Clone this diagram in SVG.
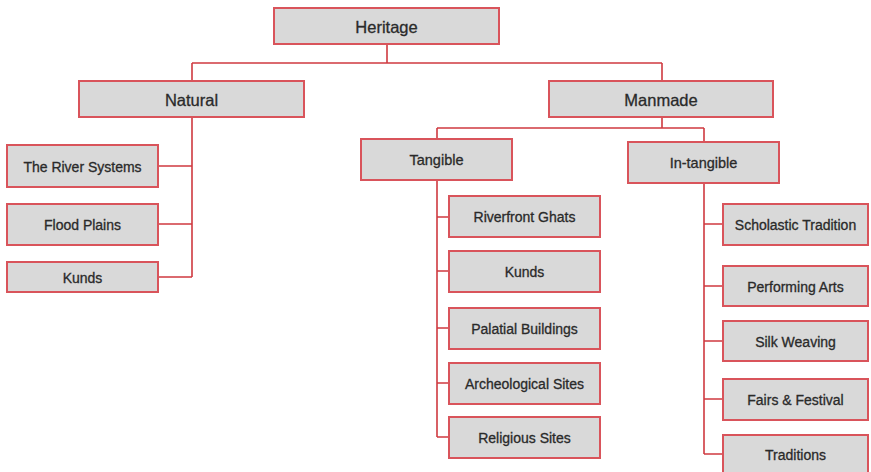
<svg xmlns="http://www.w3.org/2000/svg" width="871" height="472" viewBox="0 0 871 472">
<style>
.box{fill:#d9d9d9;stroke:#d9545b;stroke-width:2}
.ln{fill:none;stroke:#cf3a40;stroke-width:1.6}
text{font-family:"Liberation Sans",Arial,sans-serif;fill:#2a2a2a;stroke:#2a2a2a;stroke-width:0.3;text-anchor:middle;dominant-baseline:central}
.t1{font-size:16.5px}
.t2{font-size:14.5px}
.t3{font-size:14px}
</style>
<rect width="871" height="472" fill="#ffffff"/>
<g id="connectors">
<path class="ln" d="M387 44V63M192 63H662M192 63V81M662 63V81"/>
<path class="ln" d="M192 117V277M158 166H192M158 224H192M158 277H192"/>
<path class="ln" d="M662 117V128M437 128H704M437 128V139M704 128V142"/>
<path class="ln" d="M437 180V437M437 217H449M437 271H449M437 328H449M437 383H449M437 437H449"/>
<path class="ln" d="M704 183V454M704 224H723M704 286H723M704 341H723M704 399H723M704 454H723"/>
</g>
<g id="heritage"><rect class="box" x="274" y="8" width="225" height="36"/><text class="t1" x="386.5" y="26.5">Heritage</text></g>
<g id="natural"><rect class="box" x="79" y="81" width="225" height="36"/><text class="t1" x="191.5" y="99.5">Natural</text></g>
<g id="manmade"><rect class="box" x="549" y="81" width="224" height="36"/><text class="t1" x="661" y="99.5">Manmade</text></g>
<g id="river-systems"><rect class="box" x="7" y="145" width="151" height="42"/><text class="t3" x="82.5" y="166.5">The River Systems</text></g>
<g id="flood-plains"><rect class="box" x="7" y="204" width="151" height="41"/><text class="t3" x="82.5" y="225">Flood Plains</text></g>
<g id="kunds-natural"><rect class="box" x="7" y="262" width="151" height="30"/><text class="t3" x="82.5" y="277.5">Kunds</text></g>
<g id="tangible"><rect class="box" x="361" y="139" width="151" height="41"/><text class="t2" x="436.5" y="160">Tangible</text></g>
<g id="intangible"><rect class="box" x="628" y="142" width="151" height="41"/><text class="t2" x="703.5" y="163">In-tangible</text></g>
<g id="riverfront-ghats"><rect class="box" x="449" y="196" width="151" height="41"/><text class="t3" x="524.5" y="217">Riverfront Ghats</text></g>
<g id="kunds-tangible"><rect class="box" x="449" y="251" width="151" height="41"/><text class="t3" x="524.5" y="272">Kunds</text></g>
<g id="palatial-buildings"><rect class="box" x="449" y="308" width="151" height="41"/><text class="t3" x="524.5" y="329">Palatial Buildings</text></g>
<g id="archeological-sites"><rect class="box" x="449" y="363" width="151" height="41"/><text class="t3" x="524.5" y="384">Archeological Sites</text></g>
<g id="religious-sites"><rect class="box" x="449" y="417" width="151" height="41"/><text class="t3" x="524.5" y="438">Religious Sites</text></g>
<g id="scholastic-tradition"><rect class="box" x="723" y="204" width="145" height="41"/><text class="t3" x="795.5" y="224.5">Scholastic Tradition</text></g>
<g id="performing-arts"><rect class="box" x="723" y="266" width="145" height="40"/><text class="t3" x="795.5" y="286.5">Performing Arts</text></g>
<g id="silk-weaving"><rect class="box" x="723" y="321" width="145" height="40"/><text class="t3" x="795.5" y="341.5">Silk Weaving</text></g>
<g id="fairs-festival"><rect class="box" x="723" y="379" width="145" height="41"/><text class="t3" x="795.5" y="399.5">Fairs &amp; Festival</text></g>
<g id="traditions"><rect class="box" x="723" y="435" width="145" height="45"/><text class="t3" x="795.5" y="455">Traditions</text></g>
</svg>
